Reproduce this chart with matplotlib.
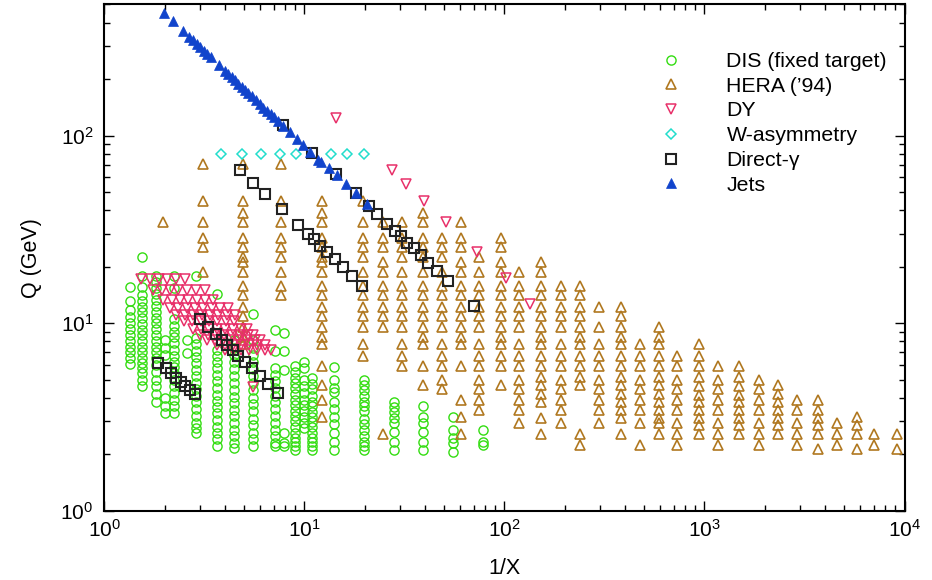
import matplotlib
matplotlib.use('Agg')
import matplotlib.pyplot as plt

plt.rcParams['font.family'] = ['Liberation Sans', 'DejaVu Sans']
plt.rcParams['mathtext.default'] = 'regular'

# ---- DIS (fixed target): columns of 1/x with their Q values
dis_x = [1.34, 1.545, 1.82, 2.0, 2.23, 2.58, 2.87, 3.64, 4.44, 5.55, 7.1, 7.92,
         8.97, 9.95, 10.9, 14.1, 19.8, 28.0, 39.3, 55.5, 78.2]
dis_q = [
    [15.5, 13.1, 11.8, 10.8, 10.0, 9.3, 8.65, 8.0, 7.5, 7.0, 6.5, 6.06],
    [22.4, 17.8, 15.5, 14.1, 13.1, 12.2, 11.4, 10.6, 9.9, 9.2, 8.65, 8.0, 7.5, 7.0,
     6.5, 6.1, 5.75, 5.4, 5.0, 4.64],
    [17.8, 16.6, 15.4, 14.3, 13.3, 12.4, 11.5, 10.7, 10.0, 9.3, 8.65, 8.05, 7.5, 7.0,
     6.5, 6.0, 5.5, 5.0, 4.6, 4.2, 3.8],
    [8.1, 7.4, 6.8, 4.0, 3.6, 3.3],
    [17.8, 15.4, 10.5, 9.7, 9.0, 8.4, 7.8, 7.2, 6.7, 6.2, 5.8, 5.4, 5.0, 4.6, 4.25,
     3.9, 3.6, 3.3],
    [8.1, 6.9],
    [17.8, 8.3, 7.7, 7.1, 6.6, 6.1, 5.6, 5.2, 4.8, 4.45, 4.1, 3.8, 3.5, 3.2, 2.95,
     2.75, 2.6],
    [14.3, 7.2, 6.7, 6.2, 5.75, 5.3, 4.9, 4.5, 4.15, 3.85, 3.55, 3.3, 3.05, 2.8, 2.6,
     2.4, 2.2],
    [8.1, 7.4, 6.8, 6.2, 5.7, 5.2, 4.8, 4.4, 4.05, 3.75, 3.45, 3.2, 2.95, 2.7, 2.5,
     2.3, 2.15],
    [11.2, 8.1, 7.4, 6.8, 6.2, 5.7, 5.2, 4.8, 4.4, 4.0, 3.7, 3.4, 3.1, 2.85, 2.6, 2.4,
     2.2],
    [9.2, 7.1, 5.75, 5.3, 4.9, 4.5, 4.1, 3.8, 3.5, 3.2, 2.95, 2.7, 2.5, 2.3, 2.2],
    [8.9, 7.1, 5.6, 2.6, 2.3, 2.2],
    [5.9, 5.5, 5.1, 4.8, 4.5, 4.2, 3.9, 3.65, 3.4, 3.2, 3.0, 2.8, 2.6, 2.45, 2.33,
     2.2, 2.11],
    [6.23, 5.75, 4.97, 4.6, 4.22, 3.9, 3.66, 3.4, 3.17, 2.95, 2.75],
    [5.09, 4.75, 4.44, 4.1, 3.81, 3.6, 3.37, 3.15, 2.98, 2.8, 2.6, 2.45, 2.33, 2.2,
     2.11],
    [5.86, 5.0, 4.5, 4.3, 3.8, 3.5, 3.15, 2.9, 2.6, 2.33, 2.11],
    [5.0, 4.7, 4.4, 4.1, 3.8, 3.6, 3.4, 3.1, 2.9, 2.7, 2.5, 2.33, 2.2, 2.11],
    [3.81, 3.59, 3.37, 3.11, 2.92, 2.64, 2.33, 2.11],
    [3.6, 3.17, 2.92, 2.64, 2.33, 2.11],
    [3.17, 2.69, 2.43, 2.29, 2.06],
    [2.69, 2.33, 2.24],
]

# ---- HERA ('94)
hera_x = [1.97, 3.12, 4.94, 7.6, 12.2, 19.7, 24.6, 30.6, 39.0, 48.5, 60.6, 74.6, 96,
          118.6, 152, 191, 238, 298, 381, 476, 592, 726, 939, 1172, 1488, 1874,
          2323, 2911, 3707, 4613, 5768, 7063, 9141]
hera_q = [
    [34.6],
    [70.7, 44.7, 34.6, 28.3, 25.5, 18.7],
    [70.7, 44.7, 38.7, 34.6, 28.3, 25.5, 22.4, 21.2, 18.7, 15.8, 14.1, 12.2, 10.9,
     9.5, 8.4, 7.7],
    [70.7, 44.7, 34.6, 28.3, 25.5, 22.4, 18.7, 15.8, 14.1],
    [44.7, 38.7, 34.6, 28.3, 25.5, 22.4, 21.2, 18.7, 15.8, 14.1, 12.2, 10.9, 9.5, 8.4,
     7.7, 5.9, 4.7, 3.9, 3.17],
    [44.7, 34.6, 28.3, 25.5, 22.4, 18.7, 15.8, 14.1, 12.2, 10.9, 9.5, 7.7, 6.7],
    [34.6, 28.3, 25.5, 21.2, 18.7, 15.8, 14.1, 12.2, 10.9, 9.5, 2.55],
    [34.6, 28.3, 25.5, 22.4, 18.7, 15.8, 14.1, 12.2, 10.9, 9.5, 7.7, 6.7, 5.9],
    [38.7, 34.6, 28.3, 25.5, 22.4, 18.7, 15.8, 14.1, 12.2, 10.9, 9.5, 8.4, 7.7, 5.9,
     4.7],
    [28.3, 25.5, 22.4, 18.7, 15.8, 14.1, 12.2, 10.9, 9.5, 7.7, 6.7, 5.9, 5.0, 4.45],
    [34.6, 28.3, 25.5, 21.2, 18.7, 15.8, 14.1, 12.2, 10.9, 9.5, 8.4, 7.7, 5.9, 3.9,
     3.17, 2.55],
    [22.4, 18.7, 15.8, 14.1, 12.2, 10.9, 9.5, 7.7, 6.7, 5.9, 5.0, 4.45, 3.9, 3.45],
    [28.3, 25.5, 21.2, 18.7, 15.8, 14.1, 12.2, 10.9, 9.5, 8.4, 7.7, 6.7, 5.9, 4.7],
    [18.7, 15.8, 14.1, 12.2, 10.9, 9.5, 7.7, 6.7, 5.9, 5.0, 4.45, 3.9, 3.45, 2.92],
    [21.2, 18.7, 15.8, 14.1, 12.2, 10.9, 9.5, 8.4, 7.7, 6.7, 5.9, 5.15, 4.7, 4.2, 3.8,
     3.11, 2.55],
    [15.8, 14.1, 12.2, 10.9, 9.5, 7.7, 6.7, 5.9, 5.0, 4.45, 3.9, 3.45, 2.92],
    [15.8, 14.1, 12.2, 10.9, 9.5, 8.4, 7.7, 6.7, 5.9, 5.15, 4.7, 2.55, 2.24],
    [12.2, 9.5, 7.7, 6.7, 5.9, 5.0, 4.45, 3.9, 3.45, 2.92],
    [12.2, 10.9, 9.5, 8.4, 7.7, 6.7, 5.9, 5.15, 4.7, 4.2, 3.8, 3.45, 3.11, 2.55],
    [7.7, 6.7, 5.9, 5.0, 4.45, 3.9, 3.45, 2.92, 2.24],
    [9.5, 8.4, 7.7, 6.7, 5.9, 5.15, 4.7, 4.2, 3.8, 3.45, 3.11, 2.92, 2.55],
    [6.7, 5.9, 5.0, 4.45, 3.9, 3.45, 2.92, 2.55, 2.24],
    [7.7, 6.7, 5.9, 5.15, 4.6, 4.15, 3.8, 3.45, 3.11, 2.86, 2.55],
    [5.9, 5.0, 4.45, 3.9, 3.45, 2.92, 2.55, 2.24],
    [5.9, 5.15, 4.6, 4.15, 3.8, 3.45, 3.11, 2.86, 2.55],
    [5.0, 4.45, 3.9, 3.45, 2.92, 2.55, 2.24],
    [4.7, 4.2, 3.8, 3.45, 3.11, 2.86, 2.55],
    [3.9, 3.45, 2.92, 2.55, 2.24],
    [3.9, 3.45, 3.11, 2.86, 2.55, 2.12],
    [2.92, 2.55, 2.24],
    [3.17, 2.86, 2.55, 2.12],
    [2.55, 2.24],
    [2.55, 2.12],
]

# ---- Drell-Yan: rows of constant Q, plus single points
dy_row_q = [17.1, 15.0, 13.3, 12.1, 11.1, 10.3, 9.27, 8.65, 8.13, 7.66, 7.2]
dy_row_x = [
    [1.53, 1.69, 1.87, 2.06, 2.28, 2.53],
    [1.75, 1.93, 2.13, 2.34, 2.58, 2.87, 3.18],
    [1.97, 2.17, 2.39, 2.62, 2.89, 3.18, 3.5],
    [2.13, 2.34, 2.58, 2.84, 3.12, 3.43, 3.78, 4.16],
    [2.29, 2.53, 2.78, 3.06, 3.37, 3.71, 4.08, 4.49],
    [2.5, 2.75, 3.03, 3.33, 3.67, 4.04, 4.45],
    [2.77, 3.04, 3.33, 3.65, 4.0, 4.39, 4.81, 5.16],
    [3.0, 3.29, 3.61, 3.96, 4.34, 4.76, 5.22, 5.53],
    [3.25, 3.57, 3.91, 4.29, 4.70, 5.16, 5.65, 5.99],
    [3.65, 4.0, 4.39, 4.81, 5.28, 5.78, 6.34],
    [4.0, 4.39, 4.81, 5.28, 5.78, 6.34, 6.8],
]
dy_x = [5.5, 14.4, 27.3, 32.3, 39.4, 50.9, 72.8, 101.4, 134.6]
dy_q = [4.58, 124, 65.6, 55.2, 44.7, 34.8, 24.0, 17.3, 12.7]

# ---- W-asymmetry
w_x = [3.82, 4.89, 6.04, 7.57, 9.07, 13.5, 16.4, 19.8]
w_q = [80, 80, 80, 80, 80, 80, 80, 80]

# ---- Direct photon
gam_x = [7.8, 10.9, 14.3, 18.0, 21.0, 23.1, 25.9, 28.3, 30.4, 32.4, 35.3, 38.2, 41.6,
         46.0, 51.9, 70.6,
         4.76, 5.55, 6.38, 7.7, 9.3, 10.4, 11.2, 12.0, 13.0, 14.2, 15.6, 17.3, 19.5,
         3.0, 3.3, 3.6, 3.85, 4.12, 4.4, 4.67, 5.04, 5.49, 6.0, 6.6, 7.35,
         1.86, 2.03, 2.15, 2.28, 2.4, 2.53, 2.68, 2.83]
gam_q = [114, 80.5, 62.5, 49.3, 42.2, 38.2, 33.8, 31.1, 29.0, 26.8, 25.0, 23.1, 21.0,
         19.0, 16.8, 12.4,
         65.6, 56.0, 48.8, 40.4, 33.5, 29.9, 28.0, 25.8, 23.9, 22.0, 19.8, 17.8, 15.8,
         10.5, 9.5, 8.73, 8.13, 7.66, 7.2, 6.68, 6.23, 5.75, 5.23, 4.72, 4.22,
         6.15, 5.79, 5.40, 5.12, 4.88, 4.64, 4.40, 4.19]

# ---- Jets
jet_x = [1.99, 2.19, 2.46, 2.65, 2.76, 2.89, 3.0, 3.15, 3.27, 3.40, 3.75, 4.0, 4.16,
         4.33, 4.49, 4.67, 4.85, 5.04, 5.24, 5.44, 5.72, 5.99, 6.22, 6.47, 6.78, 7.04,
         7.4, 7.83, 8.46, 9.14, 9.86, 10.65, 11.72, 12.05, 13.26, 14.49, 16.07, 18.03,
         20.46]
jet_q = [451, 408, 363, 336, 323, 308, 297, 283, 272, 262, 237, 221, 213, 205, 197,
         189, 182, 175, 169, 162, 154, 147, 141, 136, 130, 125, 119, 112, 104, 95.7,
         88.6, 82.0, 74.4, 72.6, 66.9, 61.7, 55.2, 49.3, 43.2]


def flatten(cols_x, cols_q):
    xs, qs = [], []
    for xc, qc in zip(cols_x, cols_q):
        xs += [xc] * len(qc)
        qs += qc
    return xs, qs


dis_px, dis_pq = flatten(dis_x, dis_q)
hera_px, hera_pq = flatten(hera_x, hera_q)
dyr_x, dyr_q = [], []
for q, row in zip(dy_row_q, dy_row_x):
    dyr_x += row
    dyr_q += [q] * len(row)
dy_all_x = dyr_x + dy_x
dy_all_q = dyr_q + dy_q

c_dis = '#33dd11'
c_hera = '#b07820'
c_dy = '#e8306a'
c_w = '#22ddcc'
c_gam = '#222222'
c_jet = '#1144cc'

fig = plt.figure(figsize=(9.32, 5.80), dpi=100)
ax = fig.add_axes([0.1121, 0.1195, 0.8584, 0.8728])

ax.plot(dis_px, dis_pq, ls='none', marker='o', ms=6.6, mfc='none', mec=c_dis,
        mew=1.0, label='DIS (fixed target)')
ax.plot(hera_px, hera_pq, ls='none', marker='^', ms=7.6, mfc='none', mec=c_hera,
        mew=1.2, label='HERA (’94)')
ax.plot(dy_all_x, dy_all_q, ls='none', marker='v', ms=7.6, mfc='none', mec=c_dy,
        mew=1.1, label='DY')
ax.plot(w_x, w_q, ls='none', marker='D', ms=5.4, mfc='none', mec=c_w,
        mew=1.1, label='W-asymmetry')
ax.plot(gam_x, gam_q, ls='none', marker='s', ms=6.8, mfc='none', mec=c_gam,
        mew=1.5, label='Direct-γ')
ax.plot(jet_x, jet_q, ls='none', marker='^', ms=7.0, mfc=c_jet, mec=c_jet,
        mew=0.5, label='Jets')

ax.set_xscale('log')
ax.set_yscale('log')
ax.set_xlim(1, 1e4)
ax.set_ylim(1, 500)

for s in ax.spines.values():
    s.set_linewidth(1.5)
ax.tick_params(which='both', direction='in', top=True, right=True, width=1.0)
ax.tick_params(which='major', length=7.5, labelsize=15)
ax.tick_params(which='minor', length=4.5)
ax.tick_params(axis='x', which='major', pad=6)
ax.tick_params(axis='y', which='major', pad=8)

ax.set_xlabel('1/X', fontsize=15.5)
ax.set_ylabel('Q (GeV)', fontsize=15.5)
ax.xaxis.set_label_coords(0.5, -0.093)
ax.yaxis.set_label_coords(-0.078, 0.5)

leg = ax.legend(loc='upper left', bbox_to_anchor=(650 / 932, 1 - 52 / 580),
                bbox_transform=fig.transFigure, frameon=False, fontsize=15.3,
                numpoints=1, handlelength=2.0, handletextpad=1.6,
                labelspacing=0.27, borderpad=0, borderaxespad=0)

fig.savefig('out.png', dpi=100)
